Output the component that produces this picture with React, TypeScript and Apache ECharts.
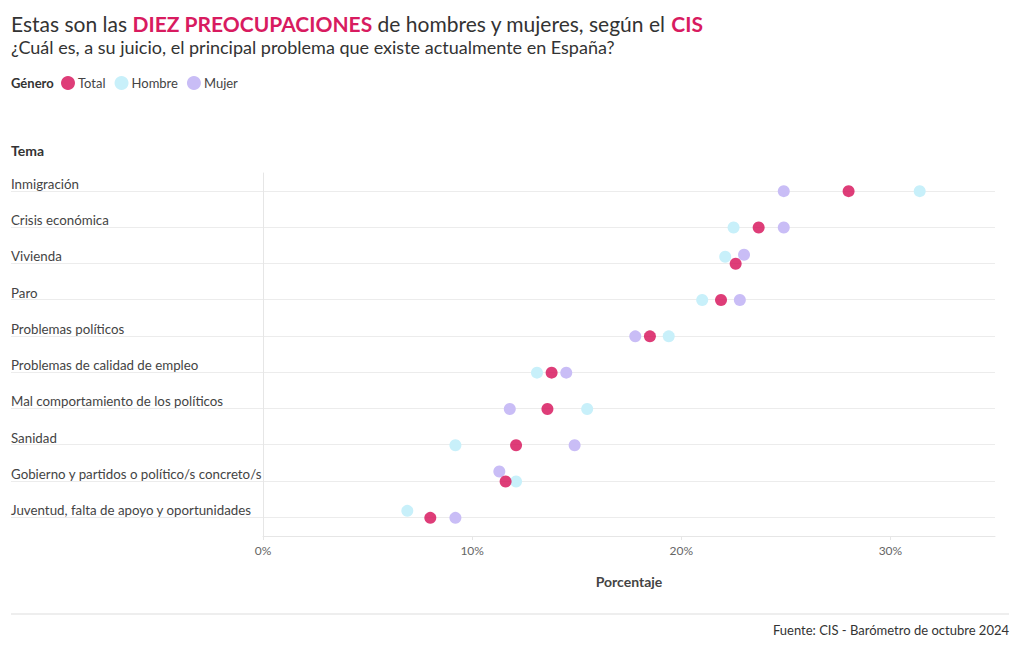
import React, { useEffect, useRef } from "react";
import * as echarts from "echarts";

const categories = [
  "Inmigración",
  "Crisis económica",
  "Vivienda",
  "Paro",
  "Problemas políticos",
  "Problemas de calidad de empleo",
  "Mal comportamiento de los políticos",
  "Sanidad",
  "Gobierno y partidos o político/s concreto/s",
  "Juventud, falta de apoyo y oportunidades",
];

const totalValues = [28.0, 23.7, 22.6, 21.9, 18.5, 13.8, 13.6, 12.1, 11.6, 8.0];
const hombreValues = [31.4, 22.5, 22.1, 21.0, 19.4, 13.1, 15.5, 9.2, 12.1, 6.9];
const mujerValues = [24.9, 24.9, 23.0, 22.8, 17.8, 14.5, 11.8, 14.9, 11.3, 9.2];

// vertical nudges (px) used where dots collide, as in the original
const hombreNudge = [0, 0, -7, 0, 0, 0, 0, 0, 0, -7];
const mujerNudge = [0, 0, -9, 0, 0, 0, 0, 0, -10, 0];

const xTicks = [0, 10, 20, 30];

const FONT = "Lato, 'Noto Sans', sans-serif";
const C_TOTAL = "#d81b60";
const C_HOMBRE = "#c8f0fa";
const C_MUJER = "#c9bdf6";

export default function App() {
  const ref = useRef<HTMLDivElement>(null);
  useEffect(() => {
    if (!ref.current) return;
    const chart = echarts.init(ref.current, null, { renderer: "svg" });
    const mk = (vals: number[], nudge?: number[]) =>
      vals.map((v, i) =>
        nudge && nudge[i] !== 0
          ? { value: [v, categories[i]], symbolOffset: [0, nudge[i]] }
          : { value: [v, categories[i]] }
      );
    chart.setOption({
      animation: false,
      textStyle: { fontFamily: FONT },
      title: {
        left: 11,
        top: 13,
        text:
          "{a|Estas son las }{b|DIEZ PREOCUPACIONES}{a| de hombres y mujeres, según el }{b|CIS}",
        subtext: "¿Cuál es, a su juicio, el principal problema que existe actualmente en España?",
        itemGap: 4,
        padding: 0,
        textStyle: {
          fontWeight: "normal",
          rich: {
            a: { fontSize: 21, color: "#333", fontWeight: "normal", fontFamily: FONT },
            b: { fontSize: 21, color: C_TOTAL, fontWeight: "bold", fontFamily: FONT },
          },
        },
        subtextStyle: { fontSize: 18, color: "#333", fontFamily: FONT },
      },
      legend: {
        left: 61,
        top: 76,
        padding: 0,
        itemWidth: 14,
        itemHeight: 14,
        itemGap: 9,
        icon: "circle",
        data: ["Total", "Hombre", "Mujer"],
        textStyle: { fontSize: 13, color: "#444", fontFamily: FONT, padding: [0, 0, 0, -2] },
        selectedMode: false,
      },
      graphic: [
        {
          type: "text",
          left: 11,
          top: 76,
          style: { text: "Género", fill: "#333", font: `bold 13px ${FONT}` },
        },
        {
          type: "text",
          left: 11,
          top: 143,
          style: { text: "Tema", font: `bold 14px ${FONT}`, fill: "#333" },
        },
        {
          type: "line",
          shape: { x1: 11, y1: 614, x2: 1009, y2: 614 },
          style: { stroke: "#dddddd", lineWidth: 1 },
        },
        {
          type: "text",
          right: 11,
          top: 623,
          style: { text: "Fuente: CIS - Barómetro de octubre 2024", font: `13px ${FONT}`, fill: "#333" },
        },
      ],
      grid: [
        { left: 263, right: 25, top: 173, bottom: 114 },
        { left: 11, right: 25, top: 191, bottom: 133 },
      ],
      xAxis: [
        {
          gridIndex: 0,
          type: "value",
          min: 0,
          max: 35,
          interval: 10,
          axisLine: { show: true, lineStyle: { color: "#e6e6e6" } },
          axisTick: { show: true, length: 4, lineStyle: { color: "#e6e6e6" } },
          splitLine: { show: false },
          axisLabel: {
            showMaxLabel: false,
            formatter: (v: number) => (xTicks.includes(v) ? `${v}%` : ""),
            color: "#666",
            fontSize: 12,
            margin: 8,
            fontFamily: FONT,
          },
          name: "Porcentaje",
          nameLocation: "middle",
          nameGap: 38,
          nameTextStyle: { fontSize: 14, fontWeight: "bold", color: "#444", fontFamily: FONT },
        },
        { gridIndex: 1, type: "value", show: false, min: 0, max: 1 },
      ],
      yAxis: [
        {
          gridIndex: 0,
          type: "category",
          data: categories,
          inverse: true,
          axisLine: { show: true, lineStyle: { color: "#e6e6e6" } },
          axisTick: { show: false },
          splitLine: { show: false },
          axisLabel: {
            align: "left",
            margin: 252,
            verticalAlign: "bottom",
            padding: [0, 0, 1, 0],
            color: "#444",
            fontSize: 13.3,
            fontFamily: FONT,
          },
        },
        {
          gridIndex: 1,
          type: "category",
          data: categories,
          inverse: true,
          boundaryGap: false,
          axisLine: { show: false },
          axisTick: { show: false },
          axisLabel: { show: false },
          splitLine: { show: true, lineStyle: { color: "#ececec", width: 1 } },
        },
      ],
      series: [
        {
          name: "Hombre",
          type: "scatter",
          symbolSize: 12,
          itemStyle: { color: C_HOMBRE, opacity: 1 },
          data: mk(hombreValues, hombreNudge),
          z: 2,
        },
        {
          name: "Mujer",
          type: "scatter",
          symbolSize: 12,
          itemStyle: { color: C_MUJER, opacity: 1 },
          data: mk(mujerValues, mujerNudge),
          z: 3,
        },
        {
          name: "Total",
          type: "scatter",
          symbolSize: 12,
          itemStyle: { color: C_TOTAL, opacity: 0.85 },
          data: mk(totalValues),
          z: 4,
        },
      ],
    });
    return () => chart.dispose();
  }, []);
  return (
    <div
      ref={ref}
      style={{ position: "fixed", left: 0, top: 0, width: 1020, height: 650, background: "#fff" }}
    />
  );
}
